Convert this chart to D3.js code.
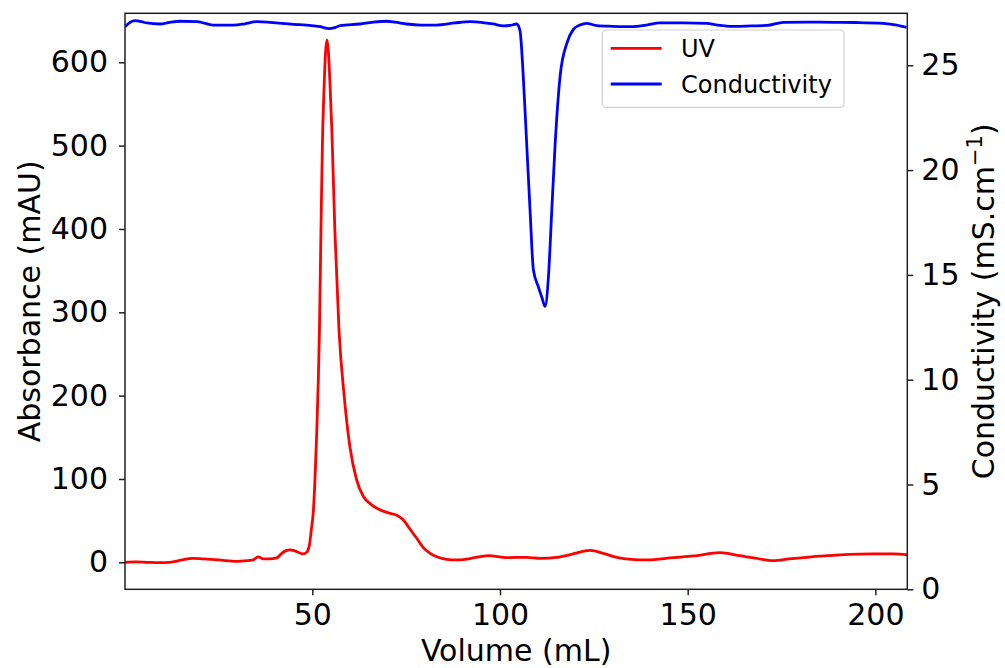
<!DOCTYPE html>
<html>
<head>
<meta charset="utf-8">
<script src="https://cdn.jsdelivr.net/npm/d3@7"></script>
<style>
  html, body { margin: 0; padding: 0; background: #fff; }
  svg { display: block; }
  text { font-family: "DejaVu Sans", sans-serif; fill: #000; }
</style>
</head>
<body>
<svg id="chart" width="1005" height="668"></svg>
<script>
// ---- data ----
const uvVolume = [0.1,3,6,9,12,15,18,21,25,30,34,35.6,36.9,38.5,40.5,41.8,43,44.1,45.5,47.5,48.5,49.2,49.7,50.3,50.8,51.2,51.6,51.9,52.3,52.7,53.1,53.5,53.9,54.3,54.7,55.2,56.0,57.1,58.5,60.0,61.8,63.6,65.8,68,70.5,72.5,74.2,76,77.8,79.5,81.4,83.5,85.8,88.5,92,96.9,101.8,107.1,110.7,115.1,119,124,128,131.1,135,139.1,146.2,151.5,158.6,163.9,168,172.8,177,181.7,190.6,199.4,205,208.5];
const uvValues = [0,0.5,0,-0.5,0,2.5,4.8,4,2.8,1.2,2.5,6.5,4,4,5.2,10.5,14,15,13.5,10,12,20,38,63,110,159,220,279,399,505,565,610,627,612,575,519,399,279,199,139,99,79,69,63,59,56.5,51,40,28.8,18,10.8,6,3.6,2.8,4.5,8,5.6,6,4.8,6,9.5,14.4,10,6,3.5,2.8,5.6,7.6,11.5,8,5,2,4,6,8.8,10,10,8.8];

const condVolume = [0.1,1.5,2.8,4.5,5.9,9.4,12,14.8,19.2,21.5,23.6,29,32,35.2,38,40.5,45,48.5,52.1,54.5,56,57.4,62.7,66,69.8,72,75.1,79,83.1,88,92,95,98.2,100.9,102.7,104.4,105.3,106.2,107.1,108.0,108.9,110.2,111.2,112.0,112.9,113.8,114.7,116.0,117.8,119.5,121.3,123.1,125.8,130,135.5,139,142.6,149,155.1,158,162.2,167,171.1,175.5,182,188.8,195,202.1,205.7,208.3];
const condValues = [26.84,27.05,27.13,27.08,27.02,26.97,27.05,27.1,27.08,27.0,26.92,26.92,26.98,27.08,27.06,27.02,26.95,26.92,26.84,26.75,26.8,26.89,26.97,27.05,27.1,27.06,26.97,26.92,26.92,27.02,27.08,27.05,26.97,26.88,26.9,26.97,26.68,24.46,21.28,18.1,15.23,14.44,13.9,13.5,14.91,18.1,21.28,24.46,26.05,26.7,26.92,27.0,26.89,26.86,26.84,26.92,27.02,27.02,27.0,26.92,26.86,26.88,26.9,27.05,27.06,27.05,27.04,27.0,26.92,26.81];

const xTicks = [50, 100, 150, 200];
const yLeftTicks = [0, 100, 200, 300, 400, 500, 600];
const yRightTicks = [0, 5, 10, 15, 20, 25];
const seriesNames = ["UV", "Conductivity"];
const seriesColors = ["#ff0000", "#0000ff"];

// ---- layout ----
const plot = { left: 125, right: 907.3, top: 13.3, bottom: 589.3 };
const svg = d3.select("#chart");

const x = d3.scaleLinear().domain([0.1, 208.5]).range([plot.left, plot.right]);
const yL = d3.scaleLinear().domain([-32.4, 658.8]).range([plot.bottom, plot.top]);
const yR = d3.scaleLinear().domain([0, 27.48]).range([plot.bottom, plot.top]);

const fs = 30;

// UV line
const uvData = uvVolume.map((v, i) => [v, uvValues[i]]);
const condData = condVolume.map((v, i) => [v, condValues[i]]);

const clip = svg.append("clipPath").attr("id", "clip")
  .append("rect").attr("x", plot.left).attr("y", plot.top)
  .attr("width", plot.right - plot.left).attr("height", plot.bottom - plot.top);

const lines = svg.append("g").attr("clip-path", "url(#clip)");
lines.append("path").datum(uvData)
  .attr("fill", "none").attr("stroke", seriesColors[0]).attr("stroke-width", 2.8)
  .attr("stroke-linejoin", "round")
  .attr("d", d3.line().x(d => x(d[0])).y(d => yL(d[1])).curve(d3.curveMonotoneX));
lines.append("path").datum(condData)
  .attr("fill", "none").attr("stroke", seriesColors[1]).attr("stroke-width", 2.8)
  .attr("stroke-linejoin", "round")
  .attr("d", d3.line().x(d => x(d[0])).y(d => yR(d[1])).curve(d3.curveMonotoneX));

// frame
svg.append("rect").attr("x", plot.left).attr("y", plot.top)
  .attr("width", plot.right - plot.left).attr("height", plot.bottom - plot.top)
  .attr("fill", "none").attr("stroke", "#222").attr("stroke-width", 1.5);

// axes
function styleAxis(g) {
  g.select(".domain").remove();
  g.selectAll(".tick line").attr("stroke", "#222").attr("stroke-width", 1.5);
  g.selectAll(".tick text").attr("font-size", fs).attr("font-family", "DejaVu Sans").attr("fill", "#000");
}
const gx = svg.append("g").attr("transform", `translate(0,${plot.bottom})`)
  .call(d3.axisBottom(x).tickValues(xTicks).tickSize(6).tickPadding(8).tickFormat(d3.format("d")));
styleAxis(gx);

const gyl = svg.append("g").attr("transform", `translate(${plot.left},0)`)
  .call(d3.axisLeft(yL).tickValues(yLeftTicks).tickSize(6).tickPadding(11).tickFormat(d3.format("d")));
styleAxis(gyl);

const gyr = svg.append("g").attr("transform", `translate(${plot.right},0)`)
  .call(d3.axisRight(yR).tickValues(yRightTicks).tickSize(6).tickPadding(8).tickFormat(d3.format("d")));
styleAxis(gyr);

// axis labels
svg.append("text").attr("x", (plot.left + plot.right) / 2).attr("y", 661)
  .attr("text-anchor", "middle").attr("font-size", fs).text("Volume (mL)");

svg.append("text").attr("transform", `translate(40,${(plot.top + plot.bottom) / 2}) rotate(-90)`)
  .attr("text-anchor", "middle").attr("font-size", fs).text("Absorbance (mAU)");

const rl = svg.append("text").attr("transform", `translate(994,${(plot.top + plot.bottom) / 2}) rotate(-90)`)
  .attr("text-anchor", "middle").attr("font-size", fs);
rl.append("tspan").text("Conductivity (mS.cm");
rl.append("tspan").attr("font-size", fs * 0.7).attr("dy", -12).text("\u22121");
rl.append("tspan").attr("dy", 12).text(")");

// legend
const lg = svg.append("g");
lg.append("rect").attr("x", 602.3).attr("y", 30).attr("width", 241.7).attr("height", 77.3)
  .attr("rx", 4).attr("fill", "#fff").attr("fill-opacity", 0.8)
  .attr("stroke", "#d0d0d0").attr("stroke-width", 1.2);
const legendY = [48.3, 84];
const baseY = [57.2, 92.9];
seriesNames.forEach((name, i) => {
  lg.append("line").attr("x1", 610.7).attr("x2", 661.7).attr("y1", legendY[i]).attr("y2", legendY[i])
    .attr("stroke", seriesColors[i]).attr("stroke-width", 2.8);
  lg.append("text").attr("x", 681).attr("y", baseY[i]).attr("font-size", 24).text(name);
});
</script>
</body>
</html>
